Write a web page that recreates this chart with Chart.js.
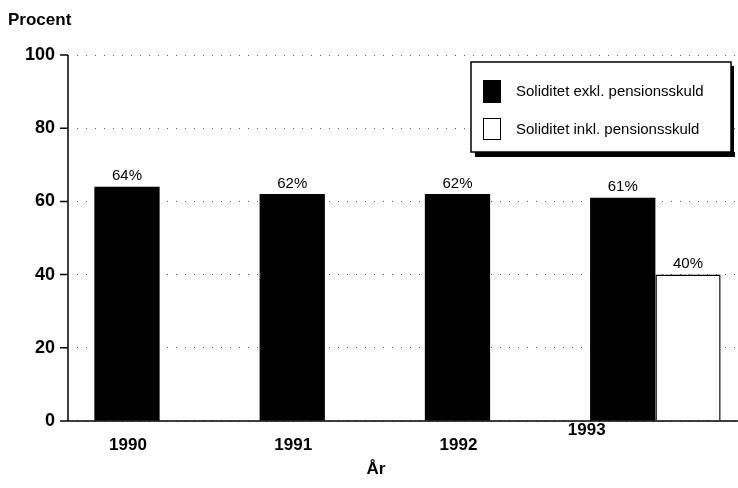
<!DOCTYPE html>
<html>
<head>
<meta charset="utf-8">
<script src="https://cdn.jsdelivr.net/npm/chart.js@4"></script>
<style>
  html, body { margin: 0; padding: 0; background: #fff; }
  #wrap { width: 738px; height: 488px; }
</style>
</head>
<body>
<div id="wrap"><canvas id="soliditetChart"></canvas></div>
<script>
// data
const years = ['1990', '1991', '1992', '1993'];
const exklPension = [64, 62, 62, 61];
const inklPension = [null, null, null, 40];
const yTicks = [0, 20, 40, 60, 80, 100];
const seriesNames = ['Soliditet exkl. pensionsskuld', 'Soliditet inkl. pensionsskuld'];

const FONT = '"Liberation Sans", Arial, sans-serif';
const AXIS_X = 68; // the printed y axis sits a little left of the first group

// value labels above bars
const valueLabels = {
  id: 'valueLabels',
  afterDatasetsDraw(chart) {
    const ctx = chart.ctx;
    ctx.save();
    ctx.font = '15px ' + FONT;
    ctx.fillStyle = '#000';
    ctx.textAlign = 'center';
    ctx.textBaseline = 'bottom';
    chart.data.datasets.forEach((ds, i) => {
      chart.getDatasetMeta(i).data.forEach((bar, j) => {
        if (ds.data[j] == null) return;
        ctx.fillText(ds.data[j] + '%', bar.x, bar.y - 3);
      });
    });
    ctx.restore();
  }
};

// axis lines, tick marks, year labels
const axes = {
  id: 'axes',
  afterDraw(chart) {
    const ctx = chart.ctx;
    const area = chart.chartArea;
    const yScale = chart.scales.y;
    ctx.save();
    ctx.strokeStyle = '#000';
    ctx.lineWidth = 1.5;
    ctx.beginPath();
    ctx.moveTo(AXIS_X, area.top);
    ctx.lineTo(AXIS_X, area.bottom);
    ctx.moveTo(AXIS_X, area.bottom);
    ctx.lineTo(area.right, area.bottom);
    yTicks.forEach(v => {
      const y = yScale.getPixelForValue(v);
      ctx.moveTo(AXIS_X - 8, y);
      ctx.lineTo(AXIS_X, y);
    });
    ctx.stroke();

    ctx.font = 'bold 17px ' + FONT;
    ctx.fillStyle = '#000';
    ctx.textAlign = 'center';
    ctx.textBaseline = 'middle';
    chart.getDatasetMeta(0).data.forEach((bar, i) => {
      const last = i === years.length - 1;
      ctx.fillText(years[i], last ? bar.x - 36 : bar.x + 1, last ? 430 : 445);
    });
    ctx.fillText('År', 376, 469);
    ctx.restore();
  }
};

// legend box with drop shadow, y title
const extras = {
  id: 'extras',
  afterDraw(chart) {
    const ctx = chart.ctx;
    ctx.save();
    ctx.font = 'bold 17px ' + FONT;
    ctx.fillStyle = '#000';
    ctx.textBaseline = 'middle';
    ctx.textAlign = 'left';
    ctx.fillText('Procent', 8, 20);

    const lx = 471, ly = 62, lw = 260, lh = 90;
    ctx.fillStyle = '#000';
    ctx.fillRect(lx + 4, ly + lh, lw, 5);
    ctx.fillRect(lx + lw, ly + 4, 3, lh);
    ctx.fillStyle = '#fff';
    ctx.fillRect(lx, ly, lw, lh);
    ctx.strokeStyle = '#000';
    ctx.lineWidth = 1.5;
    ctx.strokeRect(lx, ly, lw, lh);

    ctx.fillStyle = '#000';
    ctx.fillRect(483, 80, 18, 23);
    ctx.fillStyle = '#fff';
    ctx.fillRect(483, 118, 18, 22);
    ctx.lineWidth = 1;
    ctx.strokeRect(483.5, 118.5, 17, 21);

    ctx.fillStyle = '#000';
    ctx.font = '15px ' + FONT;
    ctx.fillText(seriesNames[0], 516, 92);
    ctx.fillText(seriesNames[1], 516, 130);
    ctx.restore();
  }
};

new Chart(document.getElementById('soliditetChart'), {
  type: 'bar',
  data: {
    labels: years,
    datasets: [{
      label: seriesNames[0],
      data: exklPension,
      backgroundColor: '#000',
      borderWidth: 0
    }, {
      label: seriesNames[1],
      data: inklPension,
      backgroundColor: '#fff',
      borderColor: '#000',
      borderWidth: 1.5
    }]
  },
  options: {
    responsive: true,
    maintainAspectRatio: false,
    animation: false,
    layout: { padding: { top: 55, right: 0, left: 0, bottom: 59 } },
    datasets: { bar: { categoryPercentage: 0.79, barPercentage: 1 } },
    plugins: {
      legend: { display: false },
      tooltip: { enabled: false }
    },
    scales: {
      x: {
        grid: { display: false },
        border: { display: false },
        ticks: { display: false }
      },
      y: {
        min: 0,
        max: 100,
        afterBuildTicks: (scale) => { scale.ticks = yTicks.map(v => ({ value: v })); },
        afterFit: (scale) => { scale.width = 77; },
        grid: {
          color: '#555',
          lineWidth: 1,
          drawTicks: false
        },
        border: { display: false, dash: [1, 8] },
        ticks: {
          color: '#000',
          font: { family: FONT, size: 18, weight: 'bold' },
          padding: 22
        }
      }
    }
  },
  plugins: [valueLabels, axes, extras]
});
</script>
</body>
</html>
